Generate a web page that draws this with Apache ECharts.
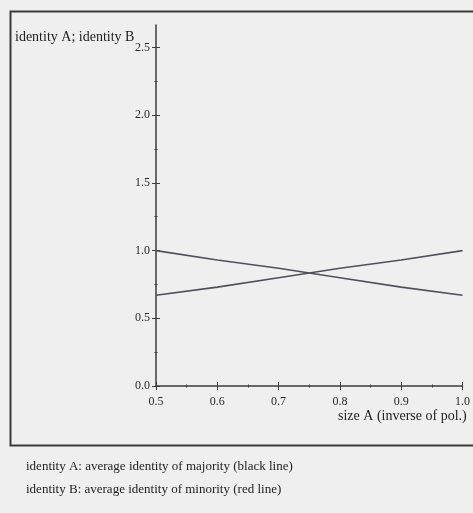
<!DOCTYPE html>
<html>
<head>
<meta charset="utf-8">
<script src="https://cdn.jsdelivr.net/npm/echarts@6/dist/echarts.min.js"></script>
<style>
html,body{margin:0;padding:0;background:#efefef;}
#chart{width:473px;height:513px;}
</style>
</head>
<body>
<div id="chart"></div>
<script>
// ---- data ----
var sizeA = [0.5, 0.6, 0.7, 0.8, 0.9, 1.0];
var identityA = [1.00, 0.93, 0.87, 0.80, 0.73, 0.67];
var identityB = [0.67, 0.73, 0.80, 0.87, 0.93, 1.00];
var xTicks = [0.5, 0.6, 0.7, 0.8, 0.9, 1.0];
var xMinorTicks = [0.55, 0.65, 0.75, 0.85, 0.95];
var yTicks = [0.0, 0.5, 1.0, 1.5, 2.0, 2.5];
var yMinorTicks = [0.25, 0.75, 1.25, 1.75, 2.25];
var yTitle = 'identity A; identity B';
var xTitle = 'size A (inverse of pol.)';
var note1 = 'identity A: average identity of majority (black line)';
var note2 = 'identity B: average identity of minority (red line)';

var serif = '"Liberation Serif", "DejaVu Serif", serif';
var axisColor = '#3c3c3c';
var lineColor = '#50505a';

function pairs(xs, ys){ return xs.map(function(x,i){ return [x, ys[i]]; }); }

function xAx(opts){
  return Object.assign({
    type:'value', min:0.5, max:1.0, position:'bottom', offset:0,
    splitLine:{show:false},
    axisLine:{show:false},
    axisLabel:{show:false},
    axisTick:{show:false}
  }, opts);
}
function yAx(opts){
  return Object.assign({
    type:'value', min:0, max:2.666, position:'left', offset:0,
    splitLine:{show:false},
    axisLine:{show:false},
    axisLabel:{show:false},
    axisTick:{show:false}
  }, opts);
}

var chart = echarts.init(document.getElementById('chart'), null, {renderer:'canvas'});
chart.setOption({
  backgroundColor:'#efefef',
  animation:false,
  grid:{left:156, right:7, top:25, bottom:127, containLabel:false},
  xAxis:[
    xAx({
      axisLine:{show:true, lineStyle:{color:axisColor, width:1.5}},
      axisLabel:{show:true, customValues:xTicks, margin:10, color:'#2a2a2a',
        fontFamily:serif, fontSize:12, formatter:function(v){return v.toFixed(1);}},
      axisTick:{show:true, customValues:xTicks, length:4, lineStyle:{color:axisColor}}
    }),
    xAx({axisTick:{show:true, inside:true, customValues:xTicks, length:4, lineStyle:{color:axisColor}}}),
    xAx({axisTick:{show:true, customValues:xMinorTicks, length:1.5, lineStyle:{color:axisColor}}}),
    xAx({axisTick:{show:true, inside:true, customValues:xMinorTicks, length:1.5, lineStyle:{color:axisColor}}})
  ],
  yAxis:[
    yAx({
      axisLine:{show:true, lineStyle:{color:axisColor, width:1.5}},
      axisLabel:{show:true, customValues:yTicks, margin:6, color:'#2a2a2a',
        fontFamily:serif, fontSize:12, formatter:function(v){return v.toFixed(1);}},
      axisTick:{show:true, customValues:yTicks, length:4, lineStyle:{color:axisColor}}
    }),
    yAx({axisTick:{show:true, inside:true, customValues:yTicks, length:4, lineStyle:{color:axisColor}}}),
    yAx({axisTick:{show:true, customValues:yMinorTicks, length:1.5, lineStyle:{color:axisColor}}}),
    yAx({axisTick:{show:true, inside:true, customValues:yMinorTicks, length:1.5, lineStyle:{color:axisColor}}})
  ],
  series:[
    {name:'identity A', type:'line', xAxisIndex:0, yAxisIndex:0, data:pairs(sizeA, identityA),
      symbol:'none', lineStyle:{color:lineColor, width:1.6}},
    {name:'identity B', type:'line', xAxisIndex:0, yAxisIndex:0, data:pairs(sizeA, identityB),
      symbol:'none', lineStyle:{color:lineColor, width:1.6}}
  ],
  graphic:[
    {type:'rect', left:8, top:9, z:-1, silent:true,
      shape:{width:480, height:434},
      style:{fill:'none', stroke:'#3a3a3a', lineWidth:2}},
    {type:'text', left:15, top:30, style:{text:yTitle, font:'14px '+serif, fill:'#222'}},
    {type:'text', left:338, top:409, style:{text:xTitle, font:'14px '+serif, fill:'#222'}},
    {type:'text', left:26, top:460, style:{text:note1, font:'13px '+serif, fill:'#222'}},
    {type:'text', left:26, top:483, style:{text:note2, font:'13px '+serif, fill:'#222'}}
  ]
});
</script>
</body>
</html>
